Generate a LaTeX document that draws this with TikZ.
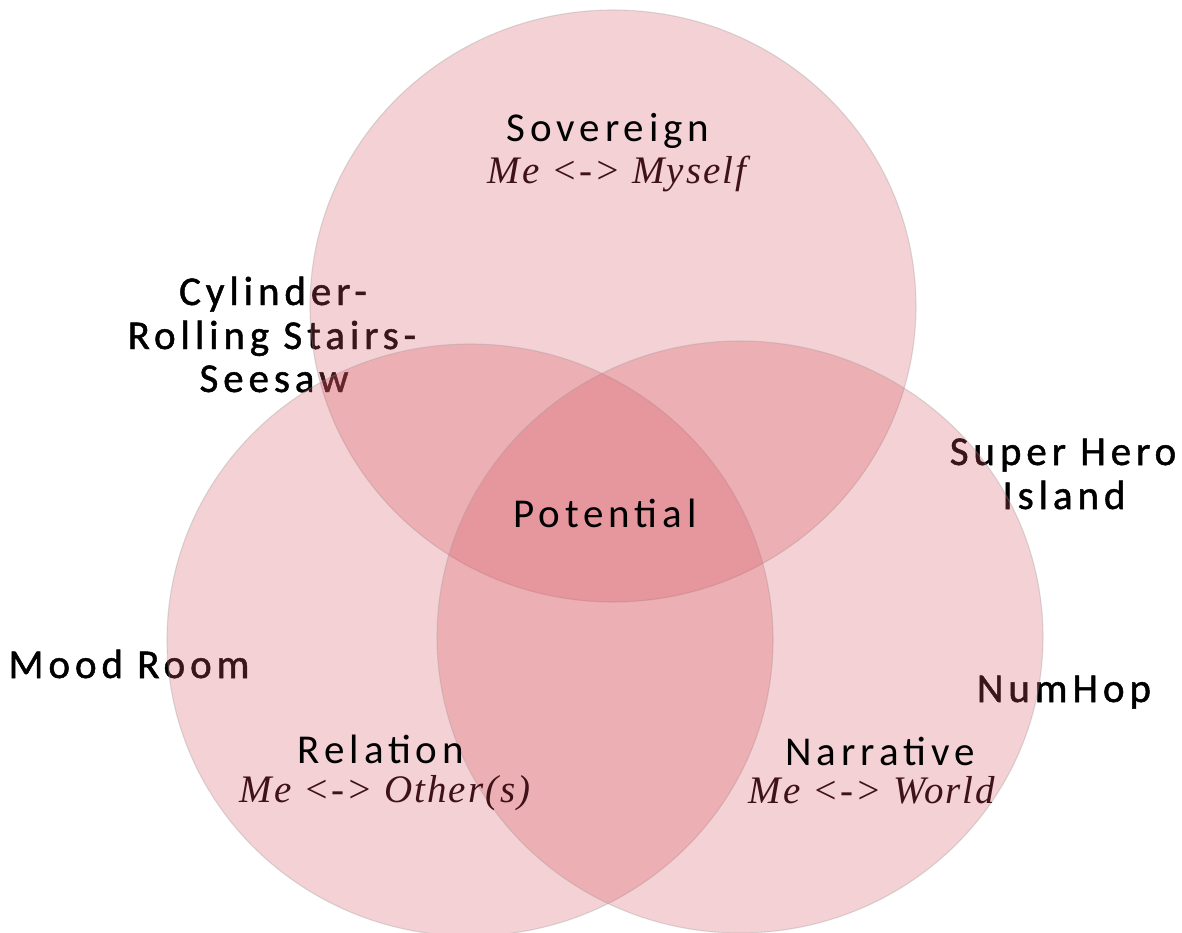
\documentclass[tikz,border=0pt]{standalone}
\usepackage{fontspec}
\usetikzlibrary{shapes.geometric}
\setmainfont{Carlito}[LetterSpace=12]
\newfontfamily\outf{Carlito}[LetterSpace=12, FakeBold=1.2]
\newfontfamily\handf{Liberation Serif}[LetterSpace=5]
\definecolor{vennfill}{RGB}{214,84,95}
\definecolor{handc}{RGB}{62,18,24}
\tikzset{
  venn/.style={ellipse, inner sep=0pt, fill=vennfill, fill opacity=0.27,
    draw=black!40, draw opacity=0.32, line width=1.1pt,
    minimum width=606pt, minimum height=592pt},
  lab/.style={anchor=base, inner sep=0pt, text=black,
    font=\fontsize{41}{46}\selectfont},
  outlab/.style={lab, font=\outf\fontsize{41}{46}\selectfont},
  hand/.style={anchor=base, inner sep=0pt, text=handc,
    font=\handf\itshape\fontsize{39}{44}\selectfont},
}
\begin{document}
\begin{tikzpicture}[x=1pt,y=-1pt]
\useasboundingbox (0,0) rectangle (1182,933);
% outer labels (under the circles)
\node[outlab] (cyl1) at (273,305) {Cylinder-};
\node[outlab] (cyl2) at (272,349) {Rolling Stairs-};
\node[outlab] (cyl3) at (274,392) {Seesaw};
\node[outlab] (shi1) at (1063,465) {Super Hero};
\node[outlab] (shi2) at (1064,509) {Island};
\node[outlab] (mood) at (129,678) {Mood Room};
\node[outlab] (num) at (1064,702) {NumHop};
% circles
\node[venn] (top) at (613,306) {};
\node[venn] (left) at (470,640) {};
\node[venn] (right) at (740,637) {};
% inner labels
\node[lab] (sov) at (608,142) {Sovereign};
\node[hand] (sovs) at (617,184) {Me <-> Myself};
\node[lab] (pot) at (605,527) {Potential};
\node[lab] (rel) at (381,763) {Relation};
\node[hand] (rels) at (385,802) {Me <-> Other(s)};
\node[lab] (nar) at (880,765) {Narrative};
\node[hand] (nars) at (872,803) {Me <-> World};
\end{tikzpicture}
\end{document}
